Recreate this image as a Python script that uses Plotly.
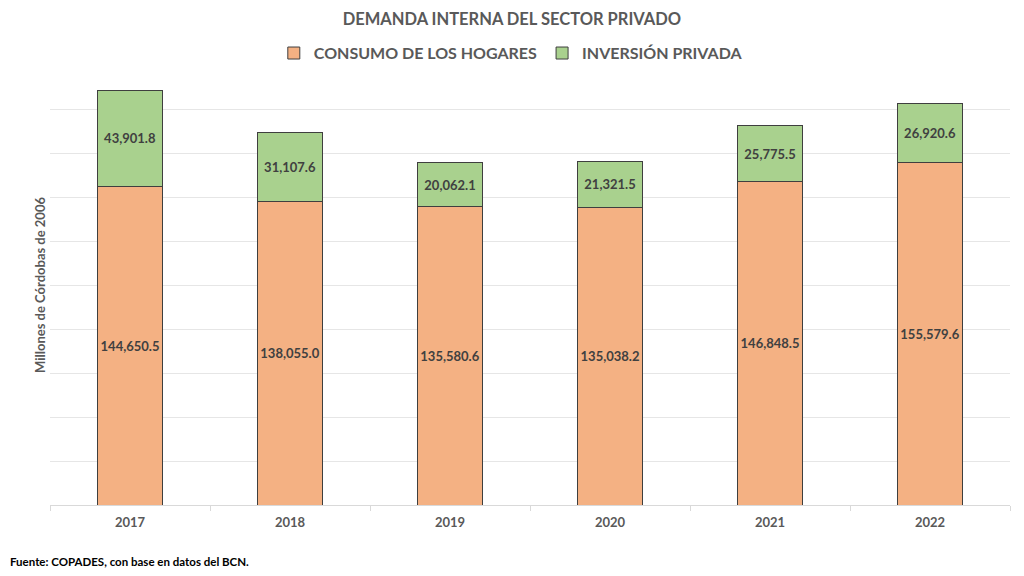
import plotly.graph_objects as go

# Datos (millones de córdobas de 2006)
anios = ["2017", "2018", "2019", "2020", "2021", "2022"]
consumo_hogares = [144650.5, 138055.0, 135580.6, 135038.2, 146848.5, 155579.6]
inversion_privada = [43901.8, 31107.6, 20062.1, 21321.5, 25775.5, 26920.6]


def fmt(v):
    return f"<b>{v:,.1f}</b>"


fig = go.Figure()

fig.add_trace(go.Bar(
    x=anios, y=consumo_hogares, name="<b>CONSUMO DE LOS HOGARES</b>",
    marker=dict(color="#F4B183", line=dict(color="#3f3f3f", width=1)),
    text=[fmt(v) for v in consumo_hogares], textposition="inside",
    insidetextanchor="middle",
    textfont=dict(family="Lato", size=13, color="#404040")))

fig.add_trace(go.Bar(
    x=anios, y=inversion_privada, name="<b>INVERSIÓN PRIVADA</b>",
    marker=dict(color="#A9D18E", line=dict(color="#3f3f3f", width=1)),
    text=[fmt(v) for v in inversion_privada], textposition="inside",
    insidetextanchor="middle",
    textfont=dict(family="Lato", size=13, color="#404040")))

# la página añade 8px de margen al cuerpo, se compensa aquí
fig.update_layout(
    barmode="stack", bargap=0.59,
    width=1016, height=568,
    margin=dict(l=42, r=14, t=57, b=71, autoexpand=False),
    paper_bgcolor="white", plot_bgcolor="white",
    font=dict(family="Lato", color="#595959"),
    uniformtext=dict(minsize=13, mode="show"),
    title=dict(text="<b>DEMANDA INTERNA DEL SECTOR PRIVADO</b>",
               x=0.496, xanchor="center", y=0.981, yanchor="middle",
               font=dict(size=16.5, color="#595959")),
    legend=dict(orientation="h", x=0.48, xanchor="center", y=1.027, yanchor="middle",
                font=dict(size=16, color="#595959"), traceorder="normal"),
    showlegend=True,
)

fig.update_xaxes(
    automargin=False,
    showline=True, linecolor="#d9d9d9", linewidth=1,
    ticks="outside", tickson="boundaries", ticklen=5, tickcolor="#d9d9d9",
    ticklabelstandoff=5,
    tickfont=dict(size=13, color="#595959", family="Lato"),
    tickprefix="<b>", ticksuffix="</b>")

fig.update_yaxes(
    automargin=False,
    range=[0, 200000], dtick=20000, showticklabels=False,
    showgrid=True, gridcolor="#e6e6e6", gridwidth=1, zeroline=False,
    title=dict(text="<b>Millones de Córdobas de 2006</b>", standoff=0,
               font=dict(size=13, color="#595959")))

fig.add_annotation(
    text="<b>Fuente: COPADES, con base en datos del BCN.</b>",
    xref="paper", yref="paper", x=-0.0437, y=-0.1295, xanchor="left", yanchor="middle",
    showarrow=False, font=dict(size=11.5, color="#000000", family="Lato"))

fig.write_html("out.html")
